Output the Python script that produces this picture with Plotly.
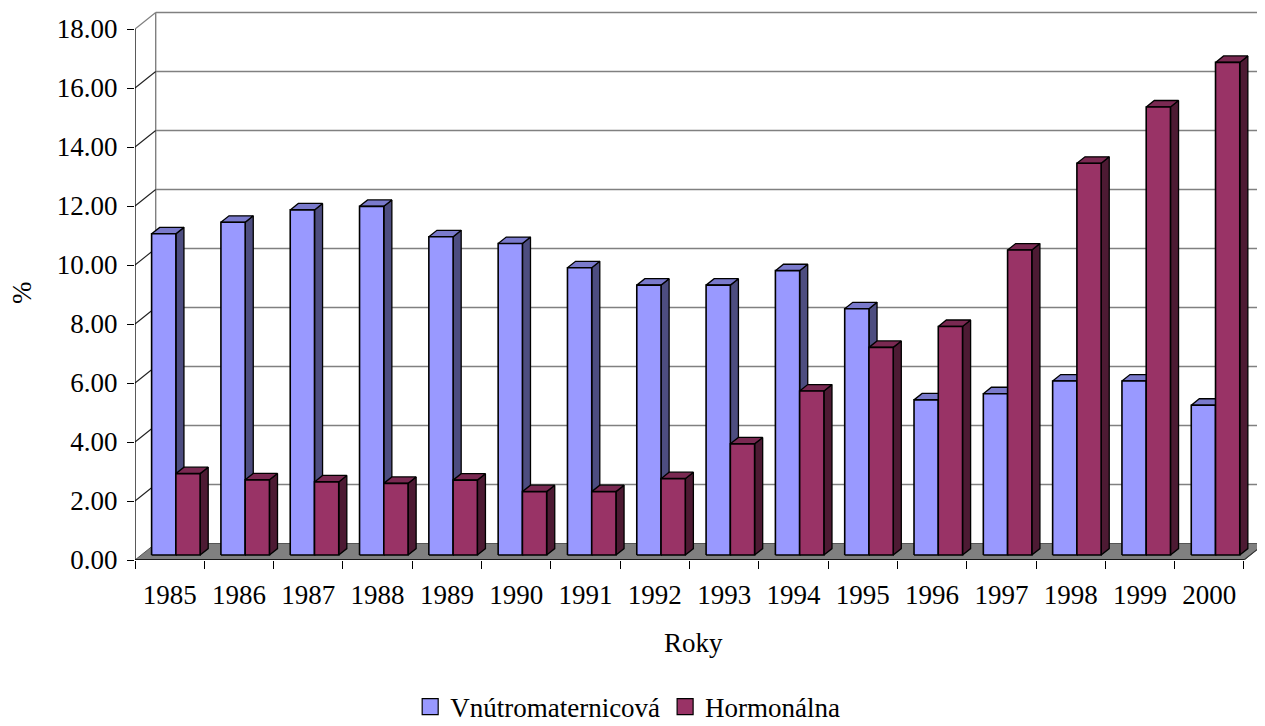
import plotly.graph_objects as go

# ---------------- data ----------------
years = ["1985", "1986", "1987", "1988", "1989", "1990", "1991", "1992",
         "1993", "1994", "1995", "1996", "1997", "1998", "1999", "2000"]
vnutromaternicova = [10.89, 11.28, 11.70, 11.82, 10.79, 10.56, 9.74, 9.15,
                     9.15, 9.64, 8.35, 5.26, 5.47, 5.90, 5.90, 5.08]
hormonalna = [2.76, 2.55, 2.48, 2.43, 2.54, 2.15, 2.15, 2.59,
              3.77, 5.56, 7.04, 7.75, 10.34, 13.28, 15.19, 16.70]
series_names = ["Vnútromaternicová", "Hormonálna"]
y_ticks = [0, 2, 4, 6, 8, 10, 12, 14, 16, 18]

# ---------------- styling / geometry ----------------
FONT = "Liberation Serif"
FS = 27
front_col = ["#9999FF", "#993366"]
top_col = ["#7A7ACC", "#7A2952"]
side_col = ["#4D4D80", "#4D1A33"]

DX, DY = 0.2987, 0.559      # full depth offset of the 3D box (data units)
F = 0.30                    # depth position of bars' front face
BD = 0.39                   # bar depth as fraction of full depth
BW = 0.35                   # bar width (category units)
n = len(years)

fig = go.Figure()

def poly(xs, ys, fill, lw=1.3, lc="black"):
    fig.add_trace(go.Scatter(x=xs, y=ys, mode="lines", fill="toself",
                             fillcolor=fill, line=dict(color=lc, width=lw),
                             hoverinfo="skip", showlegend=False))

def lines(xs, ys, color, width=1.2, xaxis="x"):
    fig.add_trace(go.Scatter(x=xs, y=ys, mode="lines",
                             line=dict(color=color, width=width),
                             hoverinfo="skip", showlegend=False, xaxis=xaxis))

# floor
poly([0, n, n + DX, DX, 0], [0, 0, DY, DY, 0], "#808080", lw=1, lc="#555555")

# back wall grid lines
gx, gy = [], []
for v in y_ticks[1:]:
    gx += [DX, n + DX + 0.2, None]
    gy += [v + DY, v + DY, None]
gx += [DX, DX, None]
gy += [DY, y_ticks[-1] + DY, None]
lines(gx, gy, "#808080", 1.4)

# side wall diagonals
dxs, dys = [], []
for v in y_ticks[1:-1]:
    dxs += [0, DX, None]
    dys += [v, v + DY, None]
lines(dxs, dys, "#202020", 1.1)
lines([0, DX], [y_ticks[-1], y_ticks[-1] + DY], "#808080", 1.3)

# y axis line
lines([0, 0], [0, y_ticks[-1]], "black", 1.3)

# bars
base = F * DY
bdx, bdy = BD * DX, BD * DY
for s, vals in enumerate([vnutromaternicova, hormonalna]):
    sx, sy, tx, ty, fx, fy = [], [], [], [], [], []
    for i, v in enumerate(vals):
        x0 = i + 0.5 - BW + s * BW + F * DX
        x1 = x0 + BW
        top = base + v
        sx += [x1, x1 + bdx, x1 + bdx, x1, x1, None]
        sy += [base, base + bdy, top + bdy, top, base, None]
        tx += [x0, x1, x1 + bdx, x0 + bdx, x0, None]
        ty += [top, top, top + bdy, top + bdy, top, None]
        fx += [x0, x1, x1, x0, x0, None]
        fy += [base, base, top, top, base, None]
    poly(sx, sy, side_col[s])
    poly(tx, ty, top_col[s])
    poly(fx, fy, front_col[s], lw=1.6)

# front x axis line (on overlay axis x2 carrying boundary ticks) + right floor edge
lines([0, n], [0, 0], "black", 1.4, xaxis="x2")
lines([n, n + DX], [0, DY], "#333333", 1.1)

# legend entries
for s in range(2):
    fig.add_trace(go.Scatter(x=[None], y=[None], mode="markers", name=series_names[s],
                             marker=dict(symbol="square", size=16, color=front_col[s],
                                         line=dict(color="black", width=1.2))))

xr = [0, 1130 / 69.31]
yr = [0, 549 / 29.5]

fig.update_layout(
    width=1265, height=742,
    margin=dict(l=127, r=8, t=3, b=190, autoexpand=False),
    paper_bgcolor="white", plot_bgcolor="white",
    font=dict(family=FONT, size=FS, color="black"),
    xaxis=dict(range=xr, tickmode="array", tickvals=[i + 0.5 for i in range(n)],
               ticktext=years, ticks="outside", ticklen=11, tickcolor="rgba(0,0,0,0)",
               showgrid=False, zeroline=False, showline=False,
               tickfont=dict(family=FONT, size=FS, color="black"), fixedrange=True),
    xaxis2=dict(range=xr, overlaying="x", anchor="y", side="bottom",
                tickmode="array", tickvals=list(range(n + 1)), showticklabels=False,
                ticks="outside", ticklen=8, tickcolor="black", tickwidth=1.2,
                showgrid=False, zeroline=False, showline=False),
    yaxis=dict(range=yr, tickmode="array", tickvals=y_ticks, tickformat=".2f",
               ticks="outside", ticklen=7, tickcolor="black", tickwidth=1.2,
               ticklabelstandoff=4,
               showgrid=False, zeroline=False, showline=False,
               tickfont=dict(family=FONT, size=FS, color="black")),
    legend=dict(orientation="h", x=0.436, xanchor="center", y=(560 - 707) / 549,
                yanchor="middle",
                font=dict(family=FONT, size=FS, color="black"), bgcolor="rgba(0,0,0,0)"),
    annotations=[
        dict(text="%", xref="paper", yref="paper", x=(22 - 135) / 1130, y=(560 - 293) / 549,
             xanchor="center", yanchor="middle",
             showarrow=False, textangle=-90, font=dict(family=FONT, size=FS, color="black")),
        dict(text="Roky", xref="paper", yref="paper", x=(693 - 135) / 1130, y=(560 - 643) / 549,
             xanchor="center", yanchor="middle",
             showarrow=False, font=dict(family=FONT, size=FS, color="black")),
    ],
)

fig.write_html("out.html")
